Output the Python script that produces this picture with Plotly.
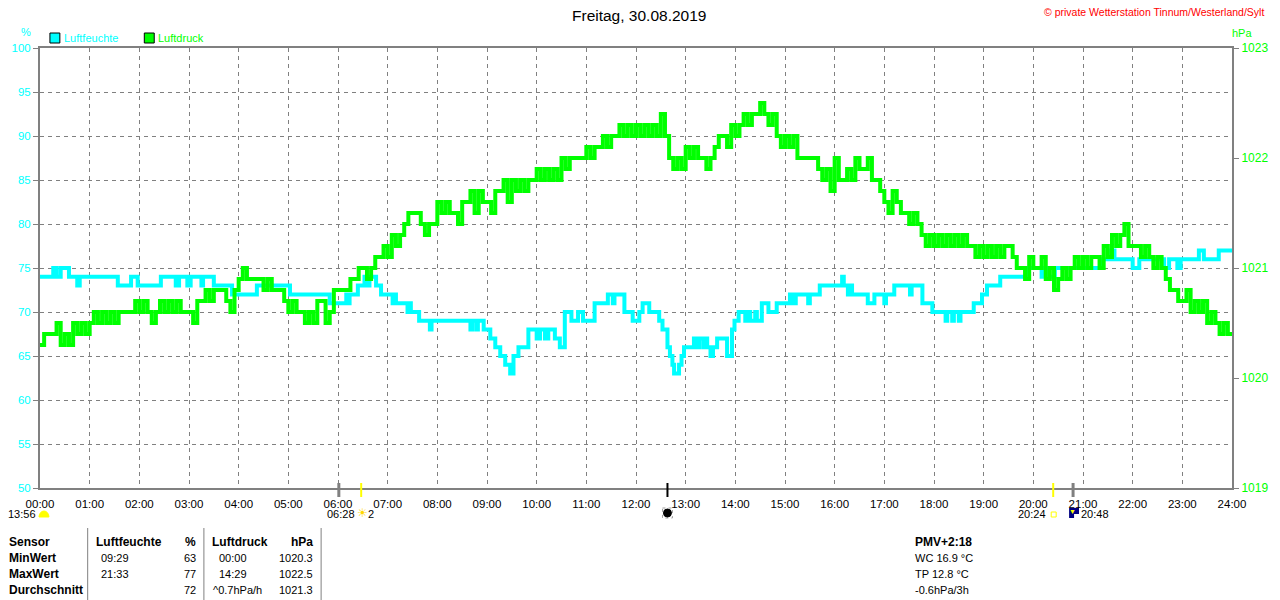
import math
import plotly.graph_objects as go

# Texte
titel = "Freitag, 30.08.2019"
copyright_text = "© private Wetterstation Tinnum/Westerland/Sylt"

# Luftfeuchte (%), Zeitpunkte der Wertwechsel
feuchte_zeit = [
    "00:00", "00:16", "00:20", "00:25", "00:35", "00:45", "00:48",
    "01:34", "01:50", "01:58",
    "02:26", "02:44", "02:48", "02:58",
    "03:02", "03:15", "03:17", "03:30", "03:52",
    "04:22",
    "05:02", "05:50",
    "06:10", "06:12", "06:14", "06:24", "06:32", "06:36", "06:38", "06:46", "06:52",
    "07:06", "07:08", "07:10", "07:24", "07:26", "07:28", "07:38", "07:51", "07:53",
    "08:40", "08:42", "08:47", "08:49", "08:56",
    "09:04", "09:10", "09:16", "09:22", "09:28", "09:32", "09:38", "09:50",
    "10:00", "10:04", "10:10", "10:14", "10:22", "10:28", "10:34", "10:42", "10:50", "10:56",
    "11:10", "11:26", "11:32", "11:34", "11:46", "11:56",
    "12:04", "12:08", "12:16", "12:28", "12:32", "12:38", "12:41", "12:44", "12:46", "12:52", "12:55", "12:58",
    "13:10", "13:14", "13:17", "13:22", "13:24", "13:26", "13:30", "13:33", "13:38", "13:50", "13:56", "13:59",
    "14:04", "14:12", "14:16", "14:18", "14:24", "14:26", "14:32", "14:40", "14:50",
    "15:06", "15:10", "15:13", "15:28", "15:30", "15:42",
    "16:09", "16:11", "16:16", "16:19", "16:21", "16:40", "16:48",
    "17:00", "17:02", "17:12", "17:31", "17:33", "17:46", "17:58",
    "18:14", "18:16", "18:22", "18:24", "18:30", "18:32", "18:48", "18:58",
    "19:04", "19:20", "19:52",
    "20:10", "20:14", "20:18", "20:26",
    "21:24", "21:34", "21:38",
    "22:00", "22:08", "22:38", "22:44", "22:54", "22:58",
    "23:20", "23:26", "23:44", "24:00",
]
feuchte_wert = [
    74, 75, 74, 75, 74, 73, 74,
    73, 74, 73,
    74, 73, 74, 73,
    74, 73, 74, 73, 72,
    73,
    72, 71,
    72, 71, 72, 73, 74, 73, 74, 73, 72,
    71, 72, 71, 70, 71, 70, 69, 68, 69,
    68, 69, 68, 69, 68,
    67, 66, 65, 64, 63, 65, 66, 68,
    67, 68, 67, 68, 67, 66, 70, 69, 70, 69,
    71, 72, 71, 72, 70, 69,
    70, 71, 70, 69, 68, 66, 65, 64, 63, 64, 65, 66,
    67, 66, 67, 66, 67, 66, 65, 66, 67, 65, 68, 69,
    70, 69, 70, 69, 70, 69, 71, 70, 71,
    72, 71, 72, 71, 72, 73,
    74, 73, 72, 73, 72, 71, 72,
    71, 72, 73, 72, 73, 71, 70,
    69, 70, 69, 70, 69, 70, 71, 72,
    73, 74, 75,
    74, 75, 74, 75,
    76, 77, 76,
    75, 76, 75, 76, 75, 76,
    77, 76, 77, 77,
]

# Luftdruck (hPa), alle 5 Minuten ab 00:00
druck_wert = [
    1020.3, 1020.4, 1020.4, 1020.4, 1020.5, 1020.3, 1020.4, 1020.3, 1020.5, 1020.4, 1020.5, 1020.4,  # 00
    1020.5, 1020.6, 1020.5, 1020.6, 1020.5, 1020.6, 1020.5, 1020.6, 1020.6, 1020.6, 1020.6, 1020.7,  # 01
    1020.6, 1020.7, 1020.6, 1020.5, 1020.6, 1020.7, 1020.6, 1020.7, 1020.6, 1020.7, 1020.6, 1020.6,  # 02
    1020.6, 1020.5, 1020.7, 1020.7, 1020.8, 1020.7, 1020.8, 1020.8, 1020.8, 1020.7, 1020.6, 1020.8,  # 03
    1020.9, 1021.0, 1020.9, 1020.9, 1020.9, 1020.9, 1020.8, 1020.9, 1020.8, 1020.8, 1020.8, 1020.7,  # 04
    1020.6, 1020.7, 1020.6, 1020.6, 1020.5, 1020.6, 1020.5, 1020.7, 1020.7, 1020.5, 1020.6, 1020.8,  # 05
    1020.8, 1020.8, 1020.8, 1020.9, 1020.9, 1021.0, 1021.0, 1020.9, 1021.0, 1021.1, 1021.1, 1021.2,  # 06
    1021.1, 1021.3, 1021.2, 1021.3, 1021.4, 1021.5, 1021.5, 1021.5, 1021.4, 1021.3, 1021.4, 1021.4,  # 07
    1021.6, 1021.5, 1021.6, 1021.5, 1021.5, 1021.4, 1021.6, 1021.6, 1021.7, 1021.5, 1021.7, 1021.6,  # 08
    1021.6, 1021.5, 1021.7, 1021.7, 1021.8, 1021.6, 1021.8, 1021.7, 1021.8, 1021.7, 1021.8, 1021.8,  # 09
    1021.9, 1021.8, 1021.9, 1021.8, 1021.9, 1021.8, 1022.0, 1021.9, 1022.0, 1022.0, 1022.0, 1022.0,  # 10
    1022.1, 1022.0, 1022.1, 1022.1, 1022.2, 1022.1, 1022.2, 1022.2, 1022.3, 1022.2, 1022.3, 1022.2,  # 11
    1022.3, 1022.2, 1022.3, 1022.2, 1022.3, 1022.2, 1022.4, 1022.2, 1022.0, 1021.9, 1022.0, 1021.9,  # 12
    1022.1, 1022.0, 1022.1, 1022.0, 1022.0, 1021.9, 1022.0, 1022.1, 1022.2, 1022.2, 1022.1, 1022.3,  # 13
    1022.2, 1022.3, 1022.4, 1022.3, 1022.4, 1022.4, 1022.5, 1022.4, 1022.3, 1022.4, 1022.2, 1022.1,  # 14
    1022.2, 1022.1, 1022.2, 1022.0, 1022.0, 1022.0, 1022.0, 1022.0, 1021.9, 1021.8, 1021.9, 1021.7,  # 15
    1022.0, 1021.8, 1021.8, 1021.9, 1021.8, 1022.0, 1021.9, 1021.9, 1022.0, 1021.8, 1021.8, 1021.7,  # 16
    1021.6, 1021.5, 1021.7, 1021.6, 1021.5, 1021.5, 1021.4, 1021.5, 1021.4, 1021.3, 1021.2, 1021.3,  # 17
    1021.2, 1021.3, 1021.2, 1021.3, 1021.2, 1021.3, 1021.2, 1021.3, 1021.2, 1021.2, 1021.1, 1021.2,  # 18
    1021.1, 1021.2, 1021.1, 1021.2, 1021.1, 1021.2, 1021.2, 1021.1, 1021.0, 1021.0, 1020.9, 1021.1,  # 19
    1021.0, 1021.0, 1021.1, 1020.9, 1021.0, 1020.8, 1020.9, 1021.0, 1020.9, 1021.0, 1021.1, 1021.0,  # 20
    1021.1, 1021.0, 1021.1, 1021.1, 1021.0, 1021.2, 1021.1, 1021.3, 1021.2, 1021.3, 1021.4, 1021.2,  # 21
    1021.2, 1021.2, 1021.1, 1021.2, 1021.1, 1021.0, 1021.1, 1021.0, 1020.9, 1020.8, 1020.8, 1020.7,  # 22
    1020.7, 1020.8, 1020.6, 1020.7, 1020.6, 1020.7, 1020.5, 1020.6, 1020.5, 1020.4, 1020.5, 1020.4,  # 23
    1020.4,
]

# Achsen
stunden_label = ["%02d:00" % h for h in range(25)]

# Ereignisse an der Zeitachse (Sonne/Mond)
sonnenauf = "06:28"
sonnenunter = "20:24"
mondauf = "20:48"
mondunter = "06:01"
neumond = "12:38"
tageslaenge = "13:56"
uv_index = "2"

# Tabelle unten
tab_kopf = ["Sensor", "Luftfeuchte", "%", "Luftdruck", "hPa"]
tab_zeilen = ["MinWert", "MaxWert", "Durchschnitt"]
feuchte_zeitpunkt = ["09:29", "21:33", ""]
feuchte_stat = ["63", "77", "72"]
druck_zeitpunkt = ["00:00", "14:29", "^0.7hPa/h"]
druck_stat = ["1020.3", "1022.5", "1021.3"]
zusatz = ["PMV+2:18", "WC 16.9 °C", "TP 12.8 °C", "-0.6hPa/3h"]

CYAN = "#00FFFF"
GRUEN = "#00FF00"
GRAU = "#808080"
FONT = "Liberation Sans, Arial, sans-serif"


def stunden(t):
    h, m = t.split(":")
    return int(h) + int(m) / 60.0


# Pixel -> paper (Plotbereich 40..1240 x 48..488)
def px(x):
    return (x - 40) / 1200.0


def py(y):
    return (488 - y) / 440.0


druck_zeit = [i * 5 / 60.0 for i in range(len(druck_wert))]

fig = go.Figure()
fig.add_trace(go.Scatter(
    x=druck_zeit, y=druck_wert, yaxis="y2", mode="lines", name="Luftdruck",
    line=dict(color=GRUEN, width=4, shape="hv"), hoverinfo="skip"))
fig.add_trace(go.Scatter(
    x=[stunden(t) for t in feuchte_zeit], y=feuchte_wert, mode="lines", name="Luftfeuchte",
    line=dict(color=CYAN, width=4, shape="hv"), hoverinfo="skip"))

ann = []
shapes = []


def text(x, y, s, color="black", size=11, anchor="left", bold=False):
    if bold:
        s = "<b>%s</b>" % s
    ann.append(dict(
        x=px(x), y=py(y), xref="paper", yref="paper", text=s,
        showarrow=False, xanchor=anchor, yanchor="middle",
        font=dict(family=FONT, size=size, color=color), borderpad=0))


# Kopf
text(643, 15, titel, size=15.5, anchor="center")
text(1273, 12, copyright_text, color="red", size=10.5, anchor="right")
text(26, 32, "%", color=CYAN, size=11, anchor="center")
text(1250, 33, "hPa", color=GRUEN, size=11, anchor="center")

# Legende
for x0, farbe, name in [(50, CYAN, "Luftfeuchte"), (145, GRUEN, "Luftdruck")]:
    shapes.append(dict(type="rect", xref="paper", yref="paper",
                       x0=px(x0), x1=px(x0 + 10), y0=py(33), y1=py(43),
                       fillcolor=farbe, line=dict(color="black", width=1)))
    text(x0 + 13, 38, name, color=farbe, size=11)

# Ereignis-Striche an der Zeitachse
for t, farbe, breite in [(mondunter, GRAU, 3), (sonnenauf, "#FFFF00", 2), (neumond, "black", 2),
                         (sonnenunter, "#FFFF00", 2), (mondauf, GRAU, 3)]:
    shapes.append(dict(type="line", xref="x", yref="paper", x0=stunden(t), x1=stunden(t),
                       y0=py(483), y1=py(497), line=dict(color=farbe, width=breite)))

# Symbole und Zeiten unter der Achse
text(37, 514, tageslaenge, anchor="right")
halb = [(44 + 5 * math.cos(a * math.pi / 8), 517 - 6 * math.sin(a * math.pi / 8)) for a in range(9)]
shapes.append(dict(type="path", xref="paper", yref="paper",
                   path="M " + " L ".join("%f,%f" % (px(a), py(b)) for a, b in halb) + " Z",
                   fillcolor="#FFFF00", line=dict(color="#FFFF00", width=1)))

xs = 40 + stunden(sonnenauf) * 50
text(xs - 5, 514, sonnenauf, anchor="right")
text(xs + 1, 513, "☀", color="#FFD700", size=12, anchor="center")
text(xs + 6, 514, uv_index)

xm = 40 + stunden(neumond) * 50
shapes.append(dict(type="rect", xref="paper", yref="paper", x0=px(xm - 5), x1=px(xm + 5),
                   y0=py(508), y1=py(518), line=dict(color="#A0A0A0", width=1, dash="dot")))
shapes.append(dict(type="circle", xref="paper", yref="paper", x0=px(xm - 4), x1=px(xm + 4),
                   y0=py(509), y1=py(517), fillcolor="black", line=dict(color="black", width=1)))

xu = 40 + stunden(sonnenunter) * 50
text(xu - 6, 514, sonnenunter, anchor="right")
shapes.append(dict(type="rect", xref="paper", yref="paper", x0=px(xu - 2), x1=px(xu + 3),
                   y0=py(512), y1=py(517), line=dict(color="#FFFF00", width=1)))

xa = 40 + stunden(mondauf) * 50
shapes.append(dict(type="rect", xref="paper", yref="paper", x0=px(xa - 4), x1=px(xa + 6),
                   y0=py(508), y1=py(518), fillcolor="#000080", line=dict(width=0)))
shapes.append(dict(type="rect", xref="paper", yref="paper", x0=px(xa + 1), x1=px(xa + 6),
                   y0=py(514), y1=py(518), fillcolor="white", line=dict(width=0)))
text(xa - 1, 511, "▼", color="#FFFF00", size=7, anchor="center")
text(xa + 7, 514, mondauf)

# Tabelle
zeilen_y = [542, 558, 574, 590]
text(8, zeilen_y[0], tab_kopf[0], bold=True, size=12)
text(95, zeilen_y[0], tab_kopf[1], bold=True, size=12)
text(198, zeilen_y[0], tab_kopf[2], bold=True, size=12, anchor="right")
text(212, zeilen_y[0], tab_kopf[3], bold=True, size=12)
text(316, zeilen_y[0], tab_kopf[4], bold=True, size=12, anchor="right")
for i, name in enumerate(tab_zeilen):
    y = zeilen_y[i + 1]
    text(8, y, name, bold=True, size=12)
    text(100, y, feuchte_zeitpunkt[i], size=11)
    text(198, y, feuchte_stat[i], size=11, anchor="right")
    text(219 if ":" in druck_zeitpunkt[i] else 213, y, druck_zeitpunkt[i], size=11)
    text(316, y, druck_stat[i], size=11, anchor="right")
for xl in [88, 205, 323]:
    shapes.append(dict(type="line", xref="paper", yref="paper", x0=px(xl), x1=px(xl),
                       y0=py(528), y1=py(600), line=dict(color=GRAU, width=1)))
for i, s in enumerate(zusatz):
    text(920, zeilen_y[i], s, bold=(i == 0), size=12 if i == 0 else 11)

fig.update_layout(
    width=1280, height=600,
    margin=dict(l=40, r=40, t=48, b=112, pad=0),
    paper_bgcolor="white", plot_bgcolor="white",
    showlegend=False,
    font=dict(family=FONT, size=11, color="black"),
    xaxis=dict(range=[0, 24], tickvals=list(range(25)), ticktext=stunden_label,
               showgrid=True, gridcolor=GRAU, griddash="4px,4px", gridwidth=1,
               showline=True, linecolor=GRAU, linewidth=2, mirror=True,
               zeroline=False, ticks="", ticklabelstandoff=4,
               tickfont=dict(color="black", size=11.5)),
    yaxis=dict(range=[50, 100], tick0=50, dtick=5,
               showgrid=True, gridcolor=GRAU, griddash="4px,4px", gridwidth=1,
               showline=True, linecolor=GRAU, linewidth=2, mirror=True,
               zeroline=False, ticks="outside", ticklen=5, tickcolor=GRAU,
               tickfont=dict(color=CYAN, size=11.5)),
    yaxis2=dict(range=[1019, 1023], tick0=1019, dtick=1, overlaying="y", side="right",
                showgrid=False, zeroline=False, showline=True, linecolor=GRAU, linewidth=2,
                ticks="outside", ticklen=5, tickcolor=GRAU,
                tickfont=dict(color=GRUEN, size=12)),
    annotations=ann,
    shapes=shapes,
)

# Seitenrand des Browsers entfernen, damit das Bild genau 1280x600 fuellt
fig.write_html("out.html", config={"displayModeBar": False},
               post_script="document.body.style.margin='0px';")
